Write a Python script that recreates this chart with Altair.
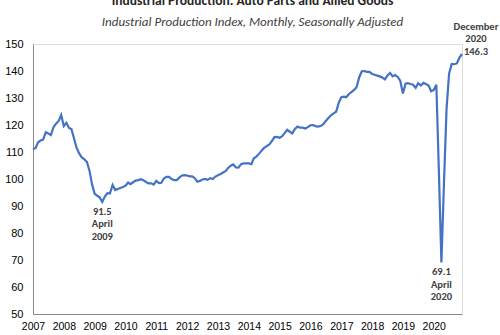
import altair as alt
import pandas as pd

FONT = "Carlito, Lato, sans-serif"

years = list(range(2007, 2021))
values = [
    # 2007
    111.0, 111.5, 113.5, 114.3, 114.6, 117.3, 116.9, 116.3, 119.2, 120.5, 121.5, 123.7,
    # 2008
    119.6, 120.8, 119.0, 118.4, 115.0, 111.5, 109.5, 108.0, 107.3, 106.3, 103.0, 98.0,
    # 2009
    94.5, 93.8, 93.2, 91.5, 93.5, 94.8, 94.7, 97.8, 95.9, 96.3, 96.7, 97.0,
    # 2010
    97.5, 98.7, 98.1, 98.8, 99.4, 99.6, 99.9, 99.5, 98.9, 98.4, 98.4, 97.9,
    # 2011
    99.3, 98.5, 98.6, 100.2, 100.8, 100.8, 100.0, 99.6, 99.6, 100.5, 101.3, 101.4,
    # 2012
    101.3, 101.0, 101.0, 100.3, 99.0, 99.3, 99.8, 100.0, 99.7, 100.3, 100.0, 100.9,
    # 2013
    101.4, 101.8, 102.4, 102.9, 104.1, 104.9, 105.4, 104.3, 104.2, 105.5, 105.8, 105.8,
    # 2014
    105.8, 105.5, 107.7, 108.3, 109.3, 110.5, 111.5, 112.2, 112.8, 114.0, 115.5, 115.6,
    # 2015
    115.3, 115.9, 117.0, 118.2, 117.5, 116.9, 118.5, 119.4, 119.0, 119.0, 118.7, 119.2,
    # 2016
    119.9, 120.0, 119.6, 119.4, 119.6, 120.3, 121.5, 122.6, 123.6, 124.3, 124.9, 128.2,
    # 2017
    130.3, 130.5, 130.3, 131.5, 132.2, 133.0, 134.0, 137.7, 139.9, 140.0, 139.7, 139.7,
    # 2018
    138.9, 138.6, 138.3, 138.0, 137.6, 136.9, 138.3, 139.3, 138.0, 138.5, 137.8, 136.3,
    # 2019
    131.7, 135.3, 135.5, 135.2, 134.9, 133.8, 135.5, 134.6, 135.6, 135.2, 134.6, 132.5,
    # 2020
    133.0, 134.9, 104.0, 69.1, 98.0, 126.0, 139.0, 142.6, 142.5, 142.8, 145.0, 146.3,
]
dates = pd.date_range("2007-01-01", periods=len(values), freq="MS")
df = pd.DataFrame({"date": dates, "value": values})

low_dates = ["2009-04-01", "2020-04-01"]
low_values = [91.5, 69.1]
low_labels = ["91.5\nApril\n2009", "69.1\nApril\n2020"]
low_df = pd.DataFrame({"date": pd.to_datetime(low_dates), "value": low_values, "label": low_labels})

end_df = pd.DataFrame({"date": pd.to_datetime(["2020-12-01"]), "value": [146.3],
                       "label": ["December\n2020\n146.3"]})

tick_dates = [pd.Timestamp(f"{y}-01-01").isoformat() for y in years]
y_ticks = list(range(50, 151, 10))

x = alt.X("date:T",
          scale=alt.Scale(domain=[pd.Timestamp("2007-01-01").isoformat(),
                                  pd.Timestamp("2020-12-01").isoformat()], nice=False),
          axis=alt.Axis(values=tick_dates, format="%Y", title=None, grid=False, ticks=False,
                        labelFlush=False, labelOverlap=False, labelBound=False,
                        labelPadding=7, labelFontSize=10.5))
y = alt.Y("value:Q",
          scale=alt.Scale(domain=[50, 150], nice=False, zero=False),
          axis=alt.Axis(values=y_ticks, title=None, grid=False, ticks=False,
                        labelOverlap=False, labelPadding=10, labelFontSize=11))

line = alt.Chart(df).mark_line(color="#4472c4", strokeWidth=2.2).encode(x=x, y=y)

low_text = alt.Chart(low_df).mark_text(
    lineBreak="\n", baseline="top", align="center", dy=5, lineHeight=12.5,
    font=FONT, fontSize=10.5, fontWeight="bold", color="#404040"
).encode(x=x, y=y, text="label:N")

end_text = alt.Chart(end_df).mark_text(
    lineBreak="\n", baseline="top", align="center", dx=14, dy=-32, lineHeight=12.5,
    font=FONT, fontSize=10.5, fontWeight="bold", color="#404040"
).encode(x=x, y=y, text="label:N")

chart = alt.layer(line, low_text, end_text).properties(
    width=429, height=270,
    padding={"left": 33, "top": 44, "right": 38, "bottom": 21},
    autosize=alt.AutoSizeParams(type="none"),
    title=alt.TitleParams(
        text="Industrial Production: Auto Parts and Allied Goods",
        subtitle="Industrial Production Index, Monthly, Seasonally Adjusted",
        anchor="middle", frame="group", dx=5, dy=21, offset=14,
        font=FONT, fontSize=13.5, fontWeight="bold", color="#262626",
        subtitleFont=FONT, subtitleFontSize=13, subtitleFontStyle="italic",
        subtitleColor="#404040", subtitlePadding=8,
    ),
).configure_view(fill="#f5f5f3", stroke=None).configure_axis(
    labelFont=FONT, labelFontWeight="bold", labelColor="#404040",
    domainColor="#a6a6a6", domainWidth=1.5, labelOverlap=False,
).configure(background="white")

chart.save("out.html", embed_options={"renderer": "svg", "actions": False})
